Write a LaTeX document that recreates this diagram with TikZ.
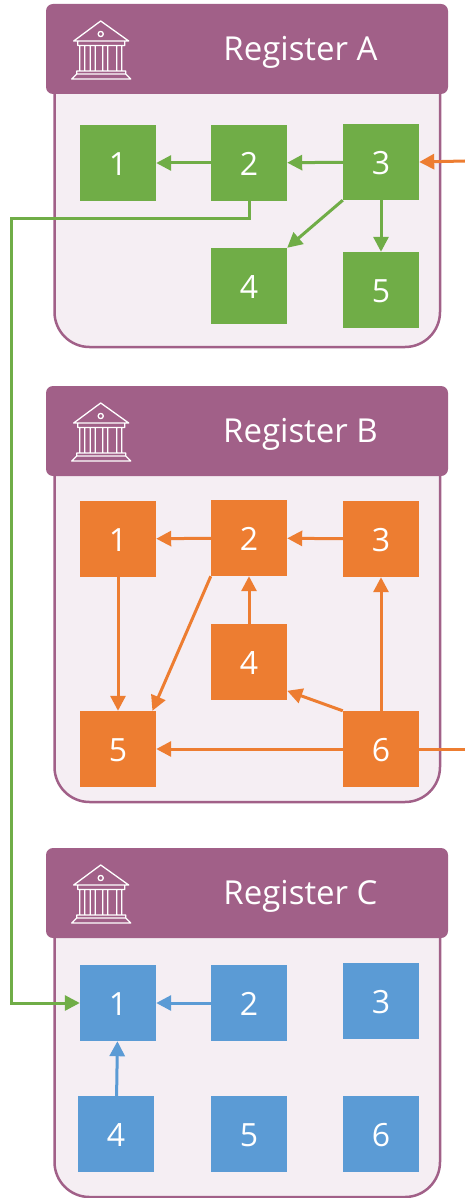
\documentclass[tikz,border=0pt]{standalone}
\usepackage{fontspec}
\setmainfont{Open Sans}
\usepackage{tikz}
\usetikzlibrary{calc,arrows.meta}
\definecolor{regpurple}{HTML}{A16088}
\definecolor{regpale}{HTML}{F5EEF3}
\definecolor{reggreen}{HTML}{70AD47}
\definecolor{regorange}{HTML}{ED7D31}
\definecolor{regblue}{HTML}{5B9BD5}
\tikzset{>={Triangle[length=15pt,width=15pt]}}
\tikzset{
  panel/.style={draw=regpurple,fill=regpale,line width=2.5pt,rounded corners=35pt},
  header/.style={fill=regpurple,rounded corners=7pt,minimum width=402pt,minimum height=90pt,inner sep=0pt},
  title/.style={text=white,font=\fontsize{33}{38}\selectfont},
  bluebox/.style={fill=regblue,minimum size=76pt,inner sep=0pt,text=white,text height=25pt,text depth=0pt,font=\fontsize{32}{38}\selectfont},
  greenbox/.style={bluebox,fill=reggreen},
  orangebox/.style={bluebox,fill=regorange},
  greenline/.style={draw=reggreen,line width=3pt,->},
  orangeline/.style={draw=regorange,line width=3pt,->},
  blueline/.style={draw=regblue,line width=3pt,->},
  bank/.pic={
    \draw[white,line width=1.3pt,line join=round]
      (0,17) -- (-27,37) -- (28,37) -- cycle
      (0,30) circle (2.6pt)
      (-23,37) rectangle (24,41.5)
      (-21,41.5) rectangle (-16,67)
      (-10.5,41.5) rectangle (-5.5,67)
      (2,41.5) rectangle (7,67)
      (16,41.5) rectangle (21,67)
      (-24,67) rectangle (25,70)
      (-24,70) -- (-29,75) -- (30,75) -- (25,70);
  }
}
\begin{document}
\begin{tikzpicture}[x=1pt,y=-1pt]
  \useasboundingbox (0,0) rectangle (465,1198);
  % three registers
  \foreach \n/\y/\b/\t in {A/4/347/Register A,B/386/802/Register B,C/848/1197/Register C}
    {
     \draw[panel] (54.5,\y+10) rectangle (440,\b);
     \node[header] (head\n) at (247,\y+45) {};
     \node[title] (title\n) at (300.5,\y+48.5) {\t};
     \pic at (100.7,\y) {bank};
    }
  \foreach \n/\x/\y/\t in {a1/118/163/1,a2/249/163/2,a3/381/162/3,a4/249/286/4,a5/381/290/5}
    \node[greenbox] (\n) at (\x,\y) {\t};
  \foreach \n/\x/\y/\t in {b1/118/539/1,b2/249/538/2,b3/381/539/3,b4/249/662/4,b5/118/749/5,b6/381/749/6}
    \node[orangebox] (\n) at (\x,\y) {\t};
  \foreach \n/\x/\y/\t in {c1/118/1003/1,c2/249/1003/2,c3/381/1001/3,c4/116/1134/4,c5/249/1134/5,c6/381/1134/6}
    \node[bluebox] (\n) at (\x,\y) {\t};
  % free ends and the long way round
  \coordinate (ain) at (465,161);
  \coordinate (bout) at (465,749);
  \coordinate (bend) at (11,219);
  \draw[greenline] (a2) -- (a1);
  \draw[greenline] (a3) -- (a2);
  \draw[greenline] (a3.south west) -- (a4.north east);
  \draw[greenline] (a3) -- (a5);
  \draw[greenline] (a2.south) |- (bend) |- (c1.west);
  \draw[orangeline] (ain) -- (a3.east);
  \draw[orangeline] (b2) -- (b1);
  \draw[orangeline] (b3) -- (b2);
  \draw[orangeline] (b1) -- (b5);
  \draw[orangeline] (b2.south west) -- (b5.48);
  \draw[orangeline] (b4) -- (b2);
  \draw[orangeline] (b6) -- (b3);
  \draw[orangeline] (b6.north west) -- (b4.-37);
  \draw[orangeline] (b6) -- (b5);
  \draw[draw=regorange,line width=3pt] (b6.east) -- (bout);
  \draw[blueline] (c2) -- (c1);
  \draw[blueline] (c4) -- (c1);
\end{tikzpicture}
\end{document}
